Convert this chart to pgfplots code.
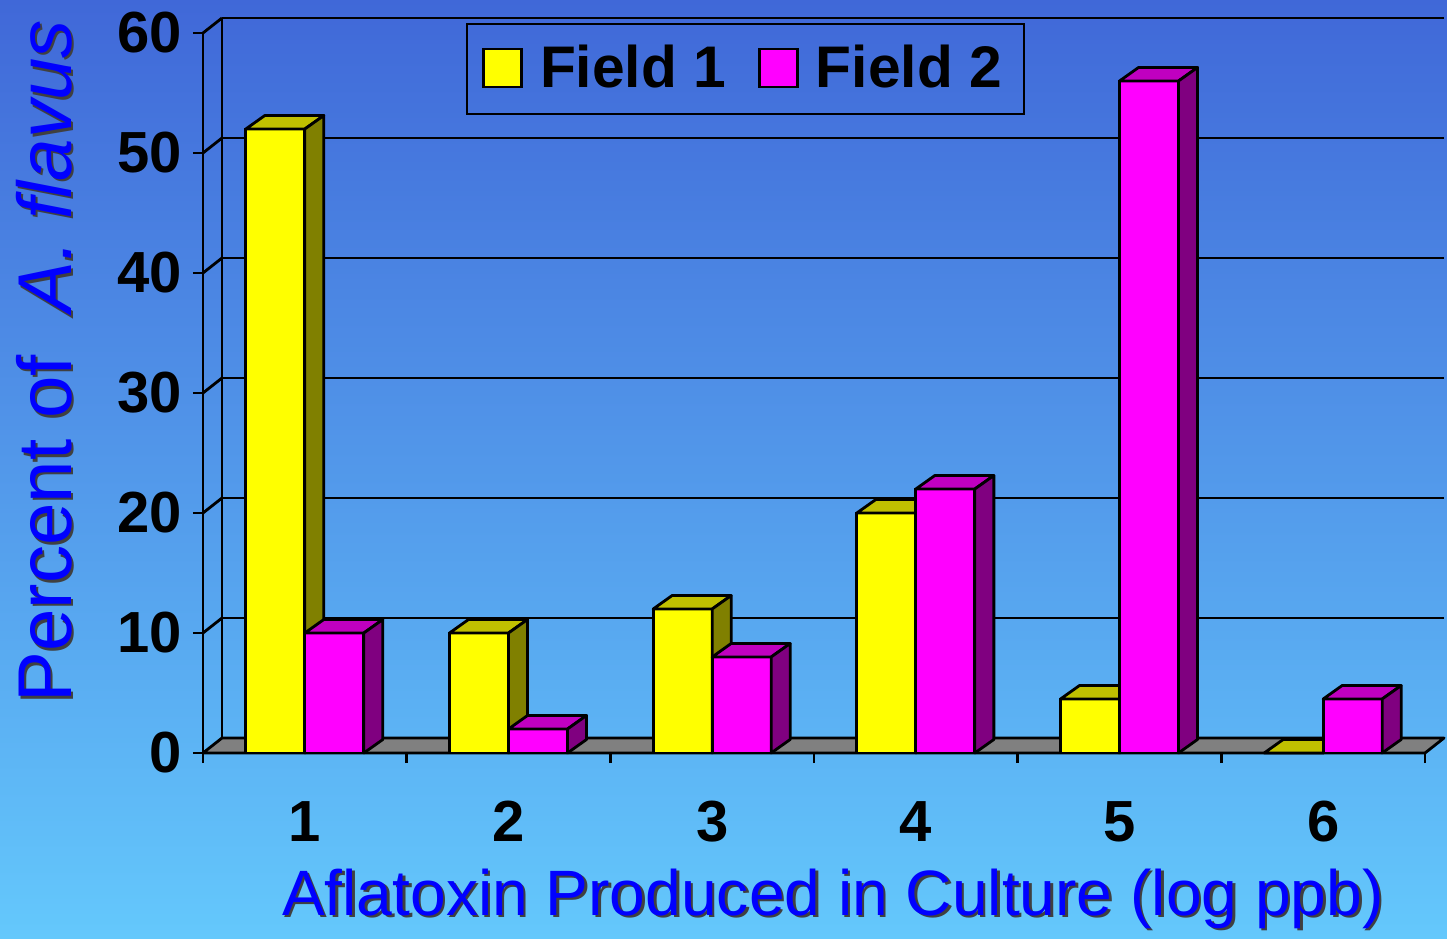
\documentclass[border=0pt]{standalone}
\usepackage{pgfplots}
\pgfplotsset{compat=1.18}
\usepackage{pgfplotstable}
\usepackage{fontspec}
\setmainfont{Liberation Sans}
\definecolor{bgtop}{RGB}{64,104,216}
\definecolor{bgbot}{RGB}{100,200,252}
\definecolor{yfront}{RGB}{255,255,0}
\definecolor{ytop}{RGB}{192,192,0}
\definecolor{yside}{RGB}{128,128,0}
\definecolor{mfront}{RGB}{255,0,255}
\definecolor{mtop}{RGB}{192,0,192}
\definecolor{mside}{RGB}{128,0,128}
\definecolor{labblue}{RGB}{0,0,255}
\pgfdeclareplotmark{empty3d}{}
\newcommand\xshadow[1]{\makebox[0pt][l]{\hspace{0.25mm}\raisebox{-0.25mm}{\color{black!75}#1}}#1}
\newcommand\yshadow[1]{\makebox[0pt][l]{\hspace{-0.25mm}\raisebox{-0.25mm}{\color{black!75}#1}}#1}

\pgfplotstableread{
x f1 f2
1 52 10
2 10 2
3 12 8
4 20 22
5 4.5 56
6 0 4.5
}\data

\pgfplotsset{
  box3d/.style n args={3}{%
    only marks, scatter, mark=empty3d, forget plot,
    visualization depends on={rawy \as \barval},
    scatter/@pre marker code/.code={%
      \pgfmathsetlengthmacro\barh{\barval*0.12cm}%
      \path[fill=#2, draw=black, line width=0.8pt, line join=round]
        (#1-0.295cm,0cm) -- (#1+0.295cm,0cm) -- (#1+0.485cm,0.135cm) -- (#1-0.105cm,0.135cm) -- cycle;
      \path[fill=#3, draw=black, line width=0.8pt, line join=round]
        (#1+0.295cm,0cm) -- (#1+0.485cm,0.135cm) -- (#1+0.485cm,0.135cm-\barh) -- (#1+0.295cm,0cm-\barh) -- cycle;
    },
    scatter/@post marker code/.code={},
  },
}

\begin{document}
\begin{tikzpicture}
\fill[top color=bgtop, bottom color=bgbot] (0,0) rectangle (14.47cm,9.38cm);
\begin{axis}[
  at={(2.03cm,1.85cm)}, anchor=south west,
  scale only axis, width=12.22cm, height=7.2cm,
  xmin=0.5, xmax=6.5, ymin=0, ymax=60,
  clip=false, clip mode=individual,
  axis x line*=bottom, axis y line*=left,
  axis line style={line width=0.8pt, black},
  xtick={1,2,3,4,5,6},
  minor xtick={0.5,1.5,2.5,3.5,4.5,5.5,6.5},
  ytick={0,10,20,30,40,50,60},
  tick align=outside,
  major tick length=0.1cm, minor tick length=0.1cm,
  tick style={black, line width=0.8pt},
  major x tick style={draw=none},
  ymajorgrids,
  grid style={black, line width=0.8pt, xshift=0.19cm, yshift=0.15cm},
  /pgf/number format/assume math mode=true,
  tick label style={font=\fontsize{16.5}{19}\selectfont\bfseries},
  xticklabel style={anchor=north, yshift=-0.26cm},
  yticklabel style={anchor=east, xshift=0.01cm},
  xlabel={\xshadow{Aflatoxin Produced in Culture (log ppb)}},
  xlabel style={at={(axis description cs:0.5155,-0.225)}, anchor=base,
    font=\fontsize{18.25}{21}\selectfont, text=labblue},
  ylabel={\yshadow{Percent of\ \ \textit{A. flavus}}},
  ylabel style={at={(axis description cs:-0.1293,0.544)}, anchor=center,
    font=\fontsize{21.7}{25}\selectfont, text=labblue},
  legend columns=2,
  legend style={at={(axis description cs:0.444,0.95)}, anchor=center,
    draw=black, line width=0.6pt, fill=none,
    font=\fontsize{16.7}{20}\selectfont\bfseries,
    inner xsep=0.15cm, inner ysep=0.14cm,
    /tikz/every odd column/.append style={column sep=0.1cm},
    /tikz/every even column/.append style={column sep=0.25cm}},
]
% floor
\draw[fill=gray, line width=0.8pt, line join=round]
  (axis cs:0.5,0) -- (axis cs:6.5,0) -- ([xshift=0.19cm,yshift=0.15cm]axis cs:6.5,0)
  -- ([xshift=0.19cm,yshift=0.15cm]axis cs:0.5,0) -- cycle;
% back wall left edge and tick diagonals
\draw[line width=0.8pt] ([xshift=0.19cm,yshift=0.15cm]axis cs:0.5,0) -- ([xshift=0.19cm,yshift=0.15cm]axis cs:0.5,60);
\pgfplotsinvokeforeach{10,20,30,40,50,60}{
  \draw[line width=0.8pt] (axis cs:0.5,#1) -- ++(0.19cm,0.15cm);
}
% Field 1
\addplot[ybar, bar width=0.59cm, bar shift=-0.295cm, fill=yfront, draw=black, line width=0.8pt,
  legend image code/.code={\draw[fill=yfront, draw=black, line width=0.8pt] (0cm,-0.18cm) rectangle (0.38cm,0.20cm);}]
  table[x=x, y=f1] {\data};
\addlegendentry{Field 1}
\addplot[box3d={-0.295cm}{ytop}{yside}] table[x=x, y=f1] {\data};
% Field 2
\addplot[ybar, bar width=0.59cm, bar shift=0.295cm, fill=mfront, draw=black, line width=0.8pt,
  legend image code/.code={\draw[fill=mfront, draw=black, line width=0.8pt] (0cm,-0.18cm) rectangle (0.38cm,0.20cm);}]
  table[x=x, y=f2] {\data};
\addlegendentry{Field 2}
\addplot[box3d={0.295cm}{mtop}{mside}] table[x=x, y=f2] {\data};
\end{axis}
\pgfresetboundingbox
\path[use as bounding box] (0,0) rectangle (14.47cm,9.38cm);
\end{tikzpicture}
\end{document}
